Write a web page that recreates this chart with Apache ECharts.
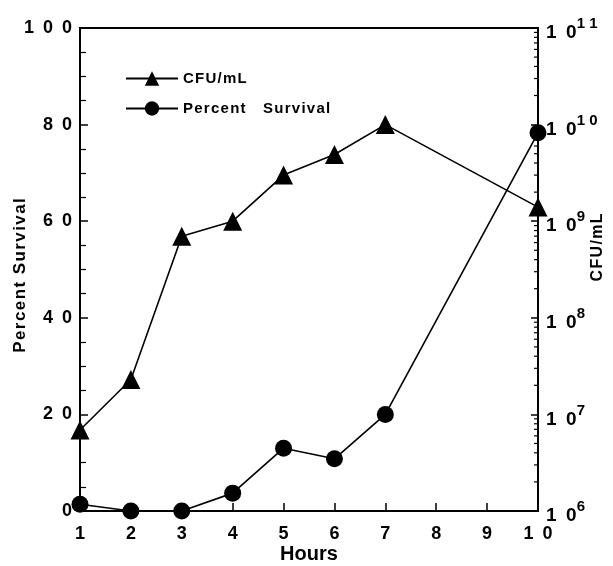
<!DOCTYPE html>
<html>
<head>
<meta charset="utf-8">
<script src="https://cdn.jsdelivr.net/npm/echarts@6/dist/echarts.min.js"></script>
<style>
  html, body { margin: 0; padding: 0; background: #fff; }
  #chart { width: 613px; height: 566px; }
</style>
</head>
<body>
<div id="chart"></div>
<script>
const hours = [1, 2, 3, 4, 5, 6, 7, 10];
const cfuPerMl = [6.9e6, 2.3e7, 7.0e8, 1.0e9, 3.0e9, 4.9e9, 1.0e10, 1.4e9];
const percentSurvival = [1.4, 0, 0, 3.7, 13, 10.8, 20, 78.3];
const xTicks = [1, 2, 3, 4, 5, 6, 7, 8, 9, 10];
const leftTicks = [0, 20, 40, 60, 80, 100];
const rightDecades = [6, 7, 8, 9, 10, 11];

// minor ticks of the log axis: 2..9 x 10^d
const logMinor = [];
rightDecades.slice(0, -1).forEach(d => {
  for (let k = 2; k <= 9; k++) logMinor.push(k * Math.pow(10, d));
});

const font = '"Liberation Sans", Arial, sans-serif';
const EN = '\u2002', HAIR = '\u200A';
const spaced = s => String(s).split('').join(EN);
const airy = s => s.split('').join(HAIR);

const chart = echarts.init(document.getElementById('chart'), null, { renderer: 'canvas' });
chart.setOption({
  animation: false,
  backgroundColor: '#fff',
  grid: { left: 80, right: 75, top: 28, bottom: 55, outerBoundsMode: 'none', containLabel: false,
    show: true, borderColor: '#000', borderWidth: 2, backgroundColor: 'transparent' },
  legend: {
    orient: 'vertical', left: 120, top: 66, itemGap: 15, itemWidth: 52, itemHeight: 18,
    textStyle: { fontFamily: font, fontWeight: 'bold', fontSize: 15, color: '#000' },
    formatter: n => airy(n),
    data: ['CFU/mL', 'Percent   Survival']
  },
  xAxis: {
    type: 'value', min: 1, max: 10, interval: 1,
    name: 'Hours', nameLocation: 'middle', nameGap: 33, nameMoveOverlap: false,
    nameTextStyle: { fontFamily: font, fontWeight: 'bold', fontSize: 20, color: '#000' },
    axisLine: { lineStyle: { color: '#000', width: 2 } },
    axisTick: { inside: true, length: 8, lineStyle: { color: '#000', width: 1.5 } },
    axisLabel: { margin: 14, fontFamily: font, fontWeight: 'bold', fontSize: 18, color: '#000',
      formatter: v => xTicks.includes(v) ? spaced(v) : '' },
    splitLine: { show: false }
  },
  yAxis: [{
    type: 'value', min: 0, max: 100, interval: 20, position: 'left',
    name: airy('Percent Survival'), nameLocation: 'middle', nameGap: 51, nameMoveOverlap: false,
    nameTextStyle: { fontFamily: font, fontWeight: 'bold', fontSize: 17, color: '#000', padding: [0, 12, 0, 0] },
    axisLine: { show: true, lineStyle: { color: '#000', width: 2 } },
    axisTick: { inside: true, length: 8, lineStyle: { color: '#000', width: 1.5 } },
    minorTick: { show: true, splitNumber: 4, length: 6, lineStyle: { color: '#000', width: 1.2 } },
    axisLabel: { margin: 8, fontFamily: font, fontWeight: 'bold', fontSize: 18, color: '#000',
      verticalAlign: 'middle', padding: [6, 0, 0, 0],
      formatter: v => leftTicks.includes(v) ? spaced(v) : '' },
    splitLine: { show: false }
  }, {
    type: 'log', logBase: 10, min: 1e6, max: 1e11, position: 'right',
    name: airy('CFU/mL'), nameLocation: 'middle', nameGap: 52, nameRotate: 90, nameMoveOverlap: false,
    nameTextStyle: { fontFamily: font, fontWeight: 'bold', fontSize: 16, color: '#000', padding: [0, 0, 0, 44] },
    axisLine: { show: true, lineStyle: { color: '#000', width: 2 } },
    axisTick: { inside: true, length: 7, lineStyle: { color: '#000', width: 1.5 } },
    axisLabel: {
      margin: 8, color: '#000',
      formatter: v => {
        const e = Math.round(Math.log10(v));
        return rightDecades.includes(e) ? '{b|' + spaced(10) + '}{s|' + String(e).split('').join(' ') + '}' : '';
      },
      rich: {
        b: { fontFamily: font, fontWeight: 'bold', fontSize: 19, color: '#000', padding: [10, 0, 0, 0] },
        s: { fontFamily: font, fontWeight: 'bold', fontSize: 15, color: '#000', padding: [0, 0, 8, 0] }
      }
    },
    splitLine: { show: false }
  }],
  series: [{
    name: 'CFU/mL', type: 'line', yAxisIndex: 1,
    data: hours.map((h, i) => [h, cfuPerMl[i]]),
    symbol: 'triangle', symbolSize: 19,
    lineStyle: { color: '#000', width: 1.6 }, itemStyle: { color: '#000' }
  }, {
    name: 'Percent   Survival', type: 'line', yAxisIndex: 0,
    data: hours.map((h, i) => [h, percentSurvival[i]]),
    symbol: 'circle', symbolSize: 17,
    lineStyle: { color: '#000', width: 1.6 }, itemStyle: { color: '#000' }
  }, {
    type: 'custom', yAxisIndex: 1, silent: true, z: 1,
    data: logMinor.map(v => [10, v]),
    renderItem: (params, api) => {
      const p = api.coord([10, api.value(1)]);
      return { type: 'line', shape: { x1: p[0] - 4, y1: p[1], x2: p[0], y2: p[1] },
        style: { stroke: '#000', lineWidth: 1.2 } };
    }
  }]
});
</script>
</body>
</html>
